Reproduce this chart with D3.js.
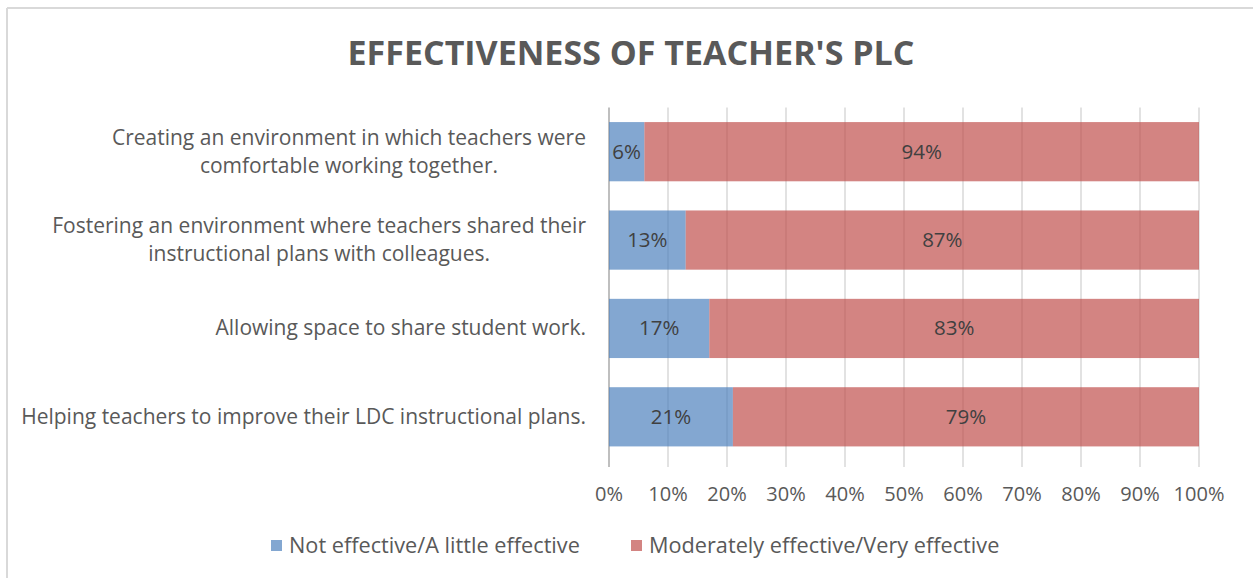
<!DOCTYPE html>
<html>
<head>
<meta charset="utf-8">
<script src="https://cdn.jsdelivr.net/npm/d3@7"></script>
<style>
  body { margin: 0; background: #fff; }
  svg { display: block; }
  text { font-family: "Open Sans", "Noto Sans", sans-serif; }
</style>
</head>
<body>
<svg id="chart" width="1253" height="578"></svg>
<script>
// data
const categories = [
  ["Creating an environment in which teachers were", "comfortable working together."],
  ["Fostering an environment where teachers shared their", "instructional plans with colleagues."],
  ["Allowing space to share student work."],
  ["Helping teachers to improve their LDC instructional plans."]
];
const notEffective = [6, 13, 17, 21];
const effective = [94, 87, 83, 79];
const seriesNames = ["Not effective/A little effective", "Moderately effective/Very effective"];
const tickValues = [0, 10, 20, 30, 40, 50, 60, 70, 80, 90, 100];

const colors = ["#4F81BD", "#C0504D"];

const svg = d3.select("#chart");

// chart frame
svg.append("line").attr("x1", 7).attr("x2", 1253).attr("y1", 8).attr("y2", 8)
  .attr("stroke", "#d9d9d9").attr("stroke-width", 2);
svg.append("line").attr("x1", 7).attr("x2", 7).attr("y1", 8).attr("y2", 578)
  .attr("stroke", "#d9d9d9").attr("stroke-width", 2);

// title
svg.append("text")
  .attr("x", 631)
  .attr("y", 65)
  .attr("text-anchor", "middle")
  .attr("font-size", 34)
  .attr("font-weight", "bold")
  .attr("fill", "#595959")
  .text("EFFECTIVENESS OF TEACHER'S PLC");

const plot = { left: 609, right: 1199, top: 107.5, bottom: 461 };

const x = d3.scaleLinear().domain([0, 100]).range([plot.left, plot.right]);
const y = d3.scaleBand()
  .domain(d3.range(categories.length))
  .range([plot.top, plot.bottom])
  .paddingInner(0.33)
  .paddingOuter(0.165);

// gridlines + ticks
const g = svg.append("g");
g.selectAll("line.grid")
  .data(tickValues)
  .enter().append("line")
  .attr("class", "grid")
  .attr("x1", d => x(d)).attr("x2", d => x(d))
  .attr("y1", plot.top).attr("y2", plot.bottom + 6)
  .attr("stroke", d => d === 0 ? "#bfbfbf" : "#d9d9d9")
  .attr("stroke-width", d => d === 0 ? 2 : 1.5);

// tick labels
g.selectAll("text.tick")
  .data(tickValues)
  .enter().append("text")
  .attr("x", d => x(d))
  .attr("y", 501)
  .attr("text-anchor", "middle")
  .attr("font-size", 20)
  .attr("fill", "#595959")
  .text(d => d + "%");

// stacked bars
const rows = categories.map((c, i) => ({ i, a: notEffective[i], b: effective[i] }));

svg.selectAll("rect.a")
  .data(rows)
  .enter().append("rect")
  .attr("x", x(0))
  .attr("y", d => y(d.i))
  .attr("width", d => x(d.a) - x(0))
  .attr("height", y.bandwidth())
  .attr("fill", colors[0])
  .attr("fill-opacity", 0.7);

svg.selectAll("rect.b")
  .data(rows)
  .enter().append("rect")
  .attr("x", d => x(d.a))
  .attr("y", d => y(d.i))
  .attr("width", d => x(d.a + d.b) - x(d.a))
  .attr("height", y.bandwidth())
  .attr("fill", colors[1])
  .attr("fill-opacity", 0.7);

// data labels
rows.forEach(d => {
  const cy = y(d.i) + y.bandwidth() / 2 + 7;
  svg.append("text")
    .attr("x", x(d.a / 2)).attr("y", cy)
    .attr("text-anchor", "middle").attr("font-size", 20.5).attr("fill", "#404040")
    .text(d.a + "%");
  svg.append("text")
    .attr("x", x(d.a + d.b / 2)).attr("y", cy)
    .attr("text-anchor", "middle").attr("font-size", 20.5).attr("fill", "#404040")
    .text(d.b + "%");
});

// category labels, wrapped lines centred on each other, block right aligned
categories.forEach((lines, i) => {
  const t = svg.append("text")
    .attr("font-size", 21)
    .attr("fill", "#595959")
    .attr("text-anchor", "middle");
  const cy = y(i) + y.bandwidth() / 2;
  const lh = 28;
  lines.forEach((ln, k) => {
    t.append("tspan")
      .attr("y", cy + 7 + (k - (lines.length - 1) / 2) * lh)
      .text(ln);
  });
  let w = 0;
  t.selectAll("tspan").each(function() { w = Math.max(w, this.getComputedTextLength()); });
  t.selectAll("tspan").attr("x", 586 - w / 2);
});

// legend
const legend = svg.append("g").attr("transform", "translate(0,546)");
const legendX = [271, 631];
seriesNames.forEach((name, i) => {
  legend.append("rect")
    .attr("x", legendX[i]).attr("y", -6)
    .attr("width", 11).attr("height", 11)
    .attr("fill", colors[i]).attr("fill-opacity", 0.7);
  legend.append("text")
    .attr("x", legendX[i] + 18).attr("y", 7)
    .attr("font-size", 21.7).attr("fill", "#595959")
    .text(name);
});
</script>
</body>
</html>
